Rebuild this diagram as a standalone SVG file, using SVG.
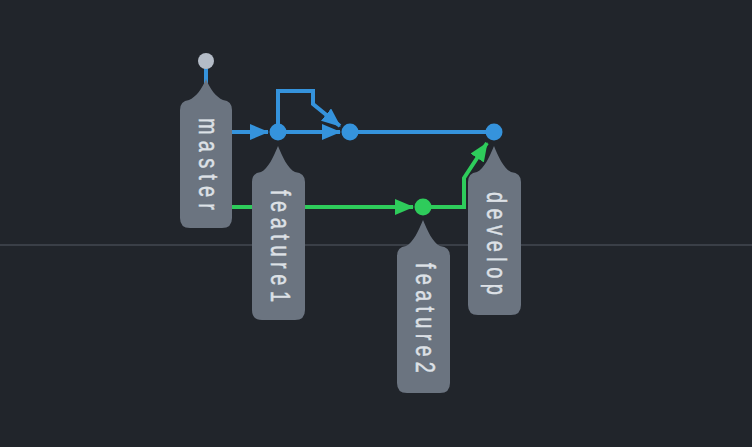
<svg xmlns="http://www.w3.org/2000/svg" width="752" height="447" viewBox="0 0 752 447">
<style>
.bg{fill:#21252b}
.axis{stroke:#3a3f47;stroke-width:2}
.lbl{fill:#6b7480}
.lt{fill:#dde1e6;stroke:#dde1e6;stroke-width:0.35;font-family:"Liberation Sans",Arial,sans-serif;font-size:20px;text-anchor:middle}
.blue{stroke:#3593dc;stroke-width:4;fill:none}
.green{stroke:#2ecc5b;stroke-width:4;fill:none}
.cb{fill:#3593dc}
.cg{fill:#2ecc5b}
</style>
<defs>
<marker id="ab" markerUnits="userSpaceOnUse" markerWidth="19" markerHeight="16" refX="18" refY="8" orient="auto"><path d="M0,0 L19,8 L0,16 z" fill="#3593dc"/></marker>
<marker id="ag" markerUnits="userSpaceOnUse" markerWidth="19" markerHeight="16" refX="18" refY="8" orient="auto"><path d="M0,0 L19,8 L0,16 z" fill="#2ecc5b"/></marker>
</defs>
<rect class="bg" x="0" y="0" width="752" height="447"/>
<line class="axis" x1="0" y1="245" x2="752" y2="245"/>
<g id="connectors">
<line class="blue" x1="206" y1="66" x2="206" y2="84"/>
<line class="blue" x1="206" y1="132" x2="268" y2="132" marker-end="url(#ab)"/>
<line class="blue" x1="278" y1="132" x2="340" y2="132" marker-end="url(#ab)"/>
<path class="blue" d="M278,132 L278,91 L313,91 L313,104 L340,126" marker-end="url(#ab)"/>
<line class="blue" x1="350" y1="132" x2="494" y2="132"/>
<line class="green" x1="206" y1="207" x2="413" y2="207" marker-end="url(#ag)"/>
<path class="green" d="M423,207 L464,207 L464,178 L487,143" marker-end="url(#ag)"/>
</g>
<g id="root"><circle cx="206" cy="61" r="8" fill="#b4bcc7"/></g>
<g id="c1"><circle class="cb" cx="278" cy="132" r="8.5"/></g>
<g id="c2"><circle class="cb" cx="350" cy="132" r="8.5"/></g>
<g id="c3"><circle class="cb" cx="494" cy="132" r="8.5"/></g>
<g id="c4"><circle class="cg" cx="423" cy="207" r="8.5"/></g>
<g id="master">
<path class="lbl" d="M206,79 C210,89 216,97 223,100 Q232,101 232,110 L232,218 Q232,228 222,228 L190,228 Q180,228 180,218 L180,110 Q180,101 189,100 C196,97 202,89 206,79 Z"/>
<text class="lt" transform="translate(206,164) rotate(90) scale(1,1.4)" x="0" y="5.2" textLength="92" lengthAdjust="spacing">master</text>
</g>
<g id="feature1">
<path class="lbl" d="M278,146 C282,156 288,169 295,172 Q305,173 305,182 L305,310 Q305,320 295,320 L262,320 Q252,320 252,310 L252,182 Q252,173 261,172 C268,169 274,156 278,146 Z"/>
<text class="lt" transform="translate(278,246) rotate(90) scale(1,1.4)" x="0" y="5.2" textLength="112" lengthAdjust="spacing">feature1</text>
</g>
<g id="develop">
<path class="lbl" d="M494,146 C498,156 504,169 511,172 Q521,173 521,182 L521,305 Q521,315 511,315 L478,315 Q468,315 468,305 L468,182 Q468,173 477,172 C484,169 490,156 494,146 Z"/>
<text class="lt" transform="translate(494,243.5) rotate(90) scale(1,1.4)" x="0" y="5.2" textLength="103" lengthAdjust="spacing">develop</text>
</g>
<g id="feature2">
<path class="lbl" d="M423,220 C427,230 433,243 440,246 Q450,247 450,256 L450,383 Q450,393 440,393 L407,393 Q397,393 397,383 L397,256 Q397,247 406,246 C413,243 419,230 423,220 Z"/>
<text class="lt" transform="translate(423,318) rotate(90) scale(1,1.4)" x="0" y="5.2" textLength="110" lengthAdjust="spacing">feature2</text>
</g>
</svg>
